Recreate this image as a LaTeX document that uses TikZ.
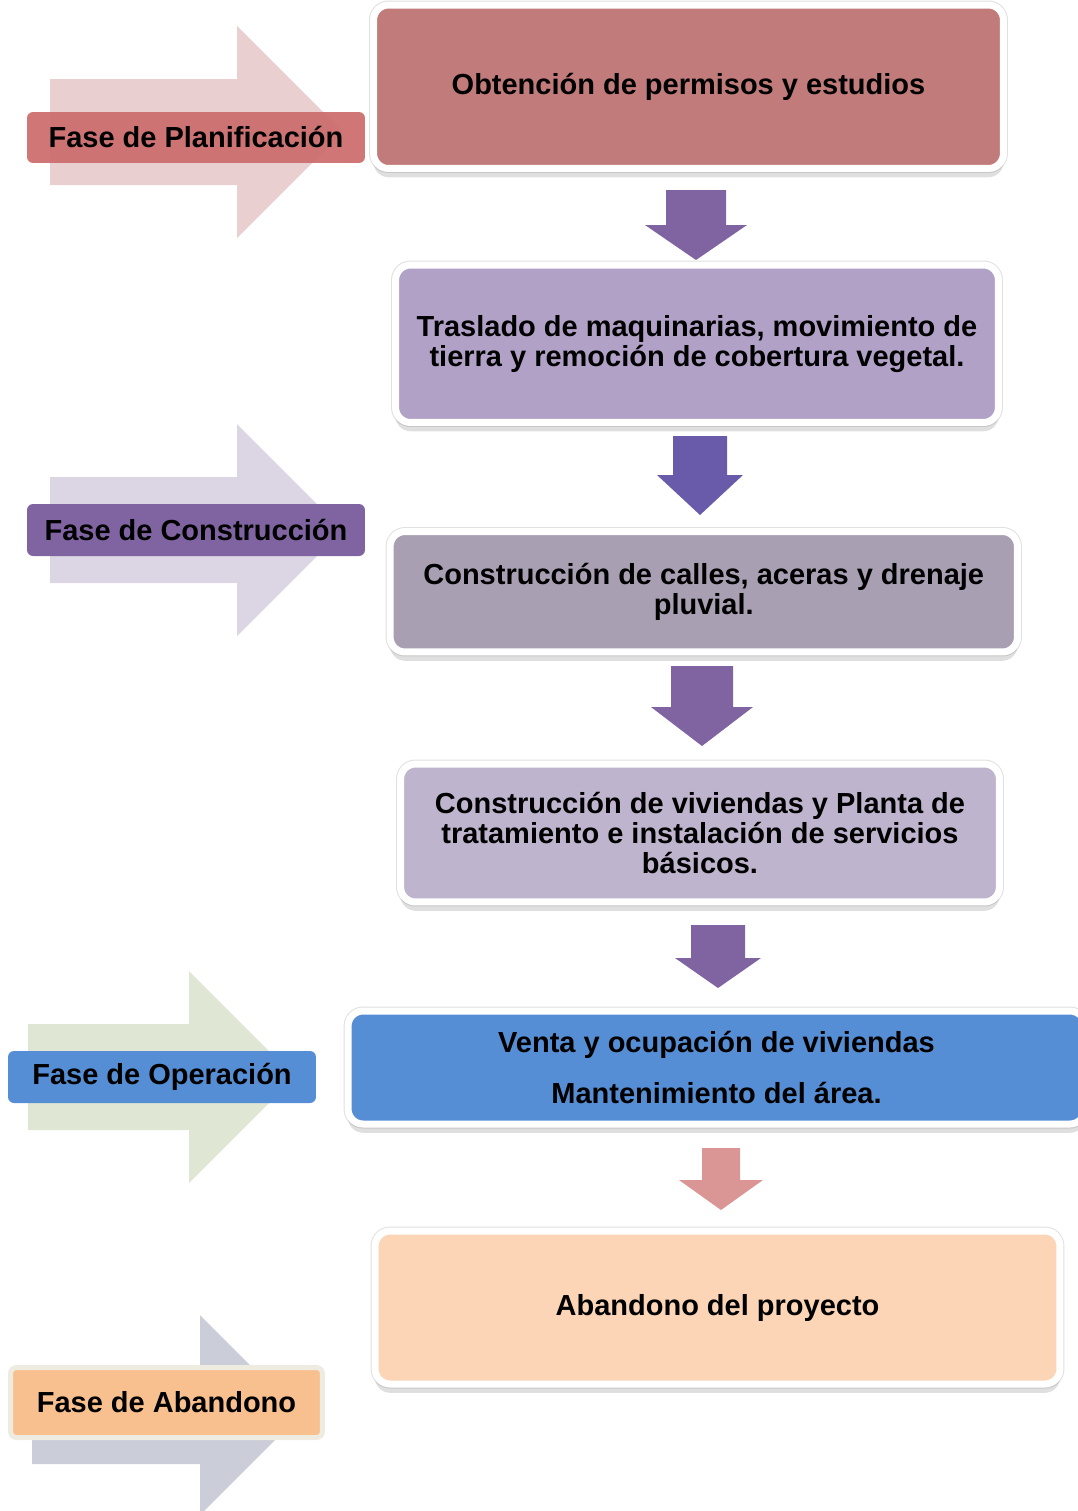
\documentclass[tikz,border=0pt]{standalone}
\usepackage{fontspec}
\setmainfont{Liberation Sans}
\usepackage{xcolor}
\usepackage{tikz}
\usetikzlibrary{
  calc,
  shadows
}
\definecolor{caja1}{HTML}{C07B7A}
\definecolor{caja2}{HTML}{B2A1C7}
\definecolor{caja3}{HTML}{A99FB3}
\definecolor{caja4}{HTML}{BFB4CD}
\definecolor{caja5}{HTML}{558ED5}
\definecolor{caja6}{HTML}{FBD5B5}
\definecolor{faseP}{HTML}{CD6F6F}
\definecolor{faseC}{HTML}{8064A2}
\definecolor{faseO}{HTML}{558ED5}
\definecolor{faseA}{HTML}{F9C08F}
\definecolor{bordeA}{HTML}{EEECE1}
\definecolor{fondoP}{HTML}{E9CFCF}
\definecolor{fondoC}{HTML}{DCD6E4}
\definecolor{fondoO}{HTML}{DFE7D4}
\definecolor{fondoA}{HTML}{CBCED8}
\definecolor{flechaM}{HTML}{8064A2}
\definecolor{flechaA}{HTML}{695BAA}
\definecolor{flechaR}{HTML}{D99694}
\tikzset{
  etapa/.style={
    draw=white,
    line width=0.14cm,
    rounded corners=0.3cm,
    align=center,
    font=\bfseries\fontsize{16.5}{17}\selectfont,
    preaction={draw=black!12, line width=0.18cm},
    drop shadow={shadow xshift=0pt, shadow yshift=-5pt, opacity=0.25}},
  fase/.style={
    rounded corners=0.12cm,
    inner sep=0pt,
    font=\bfseries\fontsize{16.5}{19}\selectfont}
  }

\begin{document}
\begin{tikzpicture}[x=0.02cm, y=-0.02cm]
      \useasboundingbox (0,0) rectangle (1078,1511);
      % flechas grandes de fondo
      \foreach \xa/\xb/\xt/\yc/\hs/\hh/\col in
        {50/237/343/132/53/106/fondoP,
         50/237/343/530/53/106/fondoC,
         28/189/295/1077/53/106/fondoO,
         32/200/300/1415/49/100/fondoA}
        \fill[\col] (\xa,\yc-\hs) -- (\xb,\yc-\hs) -- (\xb,\yc-\hh) -- (\xt,\yc)
          -- (\xb,\yc+\hh) -- (\xb,\yc+\hs) -- (\xa,\yc+\hs) -- cycle;
      % fases
      \node[fase, fill=faseP, fill opacity=0.95, text opacity=1, minimum width=6.76cm, minimum height=1.02cm] (planif) at (196,137.5) {Fase de Planificación};
      \node[fase, fill=faseC, minimum width=6.76cm, minimum height=1.04cm] (constr) at (196,530) {Fase de Construcción};
      \node[fase, fill=faseO, minimum width=6.16cm, minimum height=1.04cm] (operac) at (162,1077) {Fase de Operación};
      \node[fase, fill=faseA, draw=bordeA, line width=0.1cm, minimum width=6.24cm, minimum height=1.4cm] (aband) at (166.5,1402.5) {Fase de Abandono};
      % etapas
      \node[etapa, fill=caja1, minimum width=12.6cm, minimum height=3.27cm] (permisos) at (688.5,86.75) {Obtención de permisos y estudios};
      \node[etapa, fill=caja2, minimum width=12.06cm, minimum height=3.15cm] (traslado) at (697,343.75) {Traslado de maquinarias, movimiento de\\tierra y remoción de cobertura vegetal.};
      \node[etapa, fill=caja3, minimum width=12.55cm, minimum height=2.41cm] (calles) at (703.75,591.75) {Construcción de calles, aceras y drenaje\\pluvial.};
      \node[etapa, fill=caja4, minimum width=11.98cm, minimum height=2.76cm] (viviendas) at (700,833) {Construcción de viviendas y Planta de\\tratamiento e instalación de servicios\\básicos.};
      \node[etapa, fill=caja5, minimum width=14.74cm, minimum height=2.26cm] (venta) at (716.5,1067.5) {Venta y ocupación de viviendas\\[12pt]Mantenimiento del área.};
      \node[etapa, fill=caja6, minimum width=13.7cm, minimum height=3.06cm] (abandono) at (717.5,1307.5) {Abandono del proyecto};
      % flechas entre etapas
      \foreach \cx/\ya/\yb/\sw/\hw/\hl/\col in
        {696/190/260/30/51/35/flechaM,
         700/436/515/27/43/40/flechaA,
         702/666/746/31/51/39/flechaM,
         718/925/988/27/43/30/flechaM,
         721/1148/1210/19/42/30/flechaR}
        \fill[\col] (\cx-\sw,\ya) -- (\cx+\sw,\ya) -- (\cx+\sw,\yb-\hl) -- (\cx+\hw,\yb-\hl)
          -- (\cx,\yb) -- (\cx-\hw,\yb-\hl) -- (\cx-\sw,\yb-\hl) -- cycle;
    \end{tikzpicture}
\end{document}
